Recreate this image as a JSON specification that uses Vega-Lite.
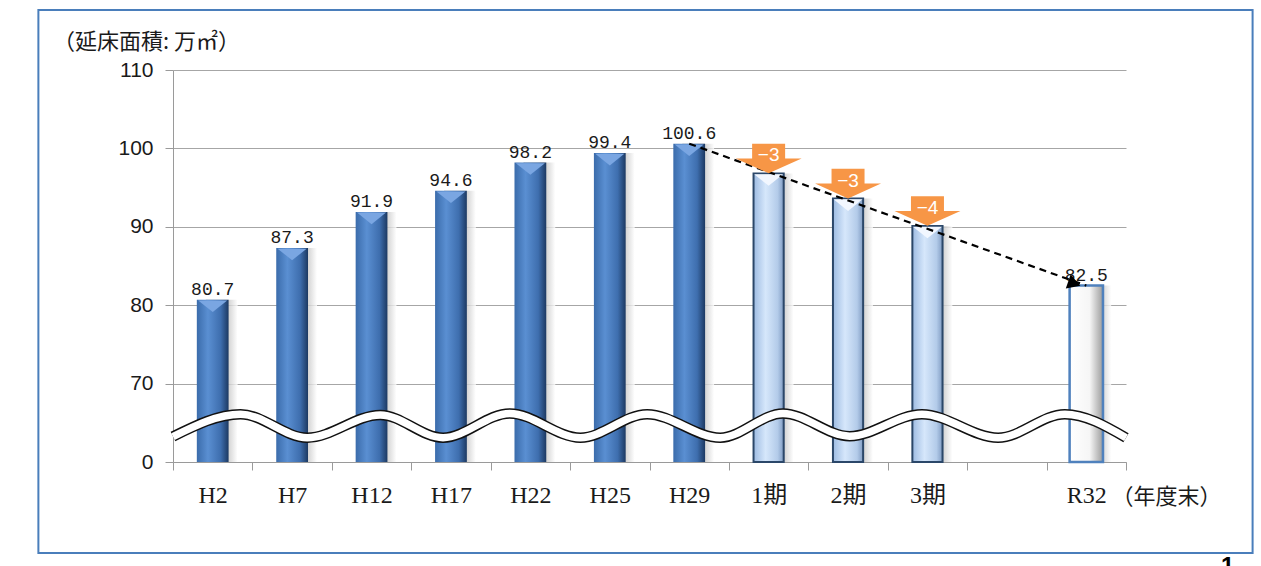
{
  "$schema": "https://vega.github.io/schema/vega-lite/v6.json",
  "width": 953,
  "height": 392,
  "autosize": {"type": "none"},
  "padding": {"left": 173, "top": 70, "right": 135, "bottom": 104},
  "background": "white",
  "config": {"view": {"stroke": null}},
  "datasets": {
    "bars": [
      {"year": "H2", "area": 80.7, "type": "actual"},
      {"year": "H7", "area": 87.3, "type": "actual"},
      {"year": "H12", "area": 91.9, "type": "actual"},
      {"year": "H17", "area": 94.6, "type": "actual"},
      {"year": "H22", "area": 98.2, "type": "actual"},
      {"year": "H25", "area": 99.4, "type": "actual"},
      {"year": "H29", "area": 100.6, "type": "actual"},
      {"year": "1期", "area": 96.8, "type": "plan", "change": -3},
      {"year": "2期", "area": 93.6, "type": "plan", "change": -3},
      {"year": "3期", "area": 90.1, "type": "plan", "change": -4},
      {"year": "R32", "area": 82.5, "type": "target"}
    ],
    "trend": [
      {"year": "H29", "area": 100.6},
      {"year": "R32", "area": 82.5}
    ],
    "wave": [
      {"u": 0, "v": 63.25},
      {"u": 0.85, "v": 66.1},
      {"u": 1.69, "v": 63.1},
      {"u": 2.61, "v": 66.0},
      {"u": 3.4, "v": 63.1},
      {"u": 4.24, "v": 66.2},
      {"u": 5.13, "v": 63.1},
      {"u": 5.97, "v": 66.1},
      {"u": 6.89, "v": 63.1},
      {"u": 7.68, "v": 66.2},
      {"u": 8.52, "v": 63.3},
      {"u": 9.43, "v": 66.1},
      {"u": 10.39, "v": 63.1},
      {"u": 11.23, "v": 66.1},
      {"u": 12, "v": 63.1}
    ]
  },
  "layer": [
    {
      "data": {"name": "bars"},
      "mark": {
        "type": "bar", "width": {"band": 0.4}, "xOffset": 9, "opacity": 0.8,
        "color": {"gradient": "linear", "x1": 0, "x2": 1, "y1": 0, "y2": 0,
          "stops": [{"offset": 0, "color": "#707070"}, {"offset": 0.5, "color": "#a0a0a0"}, {"offset": 1, "color": "#ffffff"}]}
      },
      "encoding": {
        "x": {"field": "year", "type": "nominal", "sort": null,
          "scale": {"type": "band", "domain": ["H2", "H7", "H12", "H17", "H22", "H25", "H29", "1期", "2期", "3期", " ", "R32"], "paddingInner": 0, "paddingOuter": 0},
          "axis": {
            "title": "（年度末）", "titleX": 993, "titleY": 34, "titleAlign": "center", "titleBaseline": "middle",
            "titleFont": "Noto Sans CJK JP", "titleFontSize": 22, "titleFontWeight": "normal", "titleColor": "#1a1a1a",
            "tickBand": "extent", "labelAngle": 0, "labelFont": "Liberation Serif, Noto Sans CJK JP", "labelFontSize": 24,
            "labelColor": "#1a1a1a", "labelPadding": 13, "tickSize": 8, "tickColor": "#9a9a9a", "domainColor": "#9a9a9a", "grid": false
          }
        },
        "y": {"field": "area", "type": "quantitative", "scale": {"domain": [60, 110], "nice": false, "zero": false},
          "axis": {
            "values": [60, 70, 80, 90, 100, 110], "labelExpr": "datum.value === 60 ? '0' : datum.label",
            "grid": true, "gridColor": "#a6a6a6", "gridWidth": 1, "tickSize": 8, "tickColor": "#9a9a9a", "domainColor": "#9a9a9a",
            "labelPadding": 12, "labelFont": "Liberation Sans", "labelFontSize": 21, "labelColor": "#1a1a1a",
            "title": "（延床面積: 万㎡）", "titleAngle": 0, "titleX": -27, "titleY": -29, "titleAlign": "center", "titleBaseline": "middle",
            "titleFont": "Noto Sans CJK JP", "titleFontSize": 22, "titleFontWeight": "normal", "titleColor": "#1a1a1a"
          }
        },
        "y2": {"datum": 60}
      }
    },
    {
      "data": {"name": "bars"},
      "transform": [{"filter": "datum.type === 'actual'"}],
      "mark": {
        "type": "bar", "width": {"band": 0.4},
        "color": {"gradient": "linear", "x1": 0, "x2": 1, "y1": 0, "y2": 0,
          "stops": [{"offset": 0, "color": "#3b6cab"}, {"offset": 0.35, "color": "#5a8fd2"}, {"offset": 0.75, "color": "#3e6eae"}, {"offset": 1, "color": "#1c3962"}]}
      },
      "encoding": {
        "x": {"field": "year", "type": "nominal", "sort": null, "scale": {"type": "band", "domain": ["H2", "H7", "H12", "H17", "H22", "H25", "H29", "1期", "2期", "3期", " ", "R32"], "paddingInner": 0, "paddingOuter": 0}, "axis": null},
        "y": {"field": "area", "type": "quantitative", "scale": {"domain": [60, 110], "nice": false, "zero": false}},
        "y2": {"datum": 60}
      }
    },
    {
      "data": {"name": "bars"},
      "transform": [{"filter": "datum.type === 'plan'"}],
      "mark": {
        "type": "bar", "width": {"band": 0.38}, "stroke": "#2b4769", "strokeWidth": 2,
        "fill": {"gradient": "linear", "x1": 0, "x2": 1, "y1": 0, "y2": 0,
          "stops": [{"offset": 0, "color": "#9dbbe2"}, {"offset": 0.4, "color": "#d6e7fb"}, {"offset": 0.8, "color": "#b3cbe9"}, {"offset": 1, "color": "#7f9bc2"}]}
      },
      "encoding": {
        "x": {"field": "year", "type": "nominal", "sort": null, "scale": {"type": "band", "domain": ["H2", "H7", "H12", "H17", "H22", "H25", "H29", "1期", "2期", "3期", " ", "R32"], "paddingInner": 0, "paddingOuter": 0}, "axis": null},
        "y": {"field": "area", "type": "quantitative", "scale": {"domain": [60, 110], "nice": false, "zero": false}},
        "y2": {"datum": 60}
      }
    },
    {
      "data": {"name": "bars"},
      "transform": [{"filter": "datum.type === 'target'"}],
      "mark": {
        "type": "bar", "width": {"band": 0.42}, "stroke": "#4f81bd", "strokeWidth": 2.5,
        "fill": {"gradient": "linear", "x1": 0, "x2": 1, "y1": 0, "y2": 0,
          "stops": [{"offset": 0, "color": "#ffffff"}, {"offset": 0.6, "color": "#f6f6f6"}, {"offset": 1, "color": "#9c9c9c"}]}
      },
      "encoding": {
        "x": {"field": "year", "type": "nominal", "sort": null, "scale": {"type": "band", "domain": ["H2", "H7", "H12", "H17", "H22", "H25", "H29", "1期", "2期", "3期", " ", "R32"], "paddingInner": 0, "paddingOuter": 0}, "axis": null},
        "y": {"field": "area", "type": "quantitative", "scale": {"domain": [60, 110], "nice": false, "zero": false}},
        "y2": {"datum": 60}
      }
    },
    {
      "data": {"name": "bars"},
      "transform": [{"filter": "datum.type !== 'target'"}],
      "mark": {"type": "point", "shape": "M-1,-0.4L1,-0.4L0,0.4Z", "size": 841, "filled": true, "opacity": 1, "yOffset": 6.5, "strokeWidth": 0},
      "encoding": {
        "x": {"field": "year", "type": "nominal", "sort": null, "scale": {"type": "band", "domain": ["H2", "H7", "H12", "H17", "H22", "H25", "H29", "1期", "2期", "3期", " ", "R32"], "paddingInner": 0, "paddingOuter": 0}, "axis": null},
        "y": {"field": "area", "type": "quantitative", "scale": {"domain": [60, 110], "nice": false, "zero": false}},
        "color": {"field": "type", "type": "nominal", "scale": {"domain": ["actual", "plan"], "range": ["#7aa6e2", "#f2f7ff"]}, "legend": null}
      }
    },
    {
      "data": {"name": "bars"},
      "transform": [{"filter": "datum.type !== 'plan'"}],
      "mark": {"type": "text", "baseline": "alphabetic", "dy": -5, "font": "Liberation Mono", "fontSize": 18, "color": "#1a1a1a"},
      "encoding": {
        "x": {"field": "year", "type": "nominal", "sort": null, "scale": {"type": "band", "domain": ["H2", "H7", "H12", "H17", "H22", "H25", "H29", "1期", "2期", "3期", " ", "R32"], "paddingInner": 0, "paddingOuter": 0}, "axis": null},
        "y": {"field": "area", "type": "quantitative", "scale": {"domain": [60, 110], "nice": false, "zero": false}},
        "text": {"field": "area", "type": "quantitative", "format": ".1f"}
      }
    },
    {
      "data": {"name": "trend"},
      "mark": {"type": "line", "color": "#000000", "strokeWidth": 2.2, "strokeDash": [7, 5]},
      "encoding": {
        "x": {"field": "year", "type": "nominal", "sort": null, "scale": {"type": "band", "domain": ["H2", "H7", "H12", "H17", "H22", "H25", "H29", "1期", "2期", "3期", " ", "R32"], "paddingInner": 0, "paddingOuter": 0}, "axis": null},
        "y": {"field": "area", "type": "quantitative", "scale": {"domain": [60, 110], "nice": false, "zero": false}}
      }
    },
    {
      "data": {"name": "trend"},
      "transform": [{"filter": "datum.year === 'R32'"}],
      "mark": {"type": "point", "shape": "triangle-right", "angle": 19, "size": 220, "filled": true, "color": "#000000", "opacity": 1, "xOffset": -12, "yOffset": -2},
      "encoding": {
        "x": {"field": "year", "type": "nominal", "sort": null, "scale": {"type": "band", "domain": ["H2", "H7", "H12", "H17", "H22", "H25", "H29", "1期", "2期", "3期", " ", "R32"], "paddingInner": 0, "paddingOuter": 0}, "axis": null},
        "y": {"field": "area", "type": "quantitative", "scale": {"domain": [60, 110], "nice": false, "zero": false}}
      }
    },
    {
      "data": {"name": "bars"},
      "transform": [{"filter": "datum.type === 'plan'"}],
      "mark": {"type": "point", "shape": "M-0.5,-0.45L0.5,-0.45L0.5,0L1,0L0,0.45L-1,0L-0.5,0Z", "size": 4356, "filled": true, "color": "#f79646", "opacity": 1, "strokeWidth": 0, "yOffset": -15},
      "encoding": {
        "x": {"field": "year", "type": "nominal", "sort": null, "scale": {"type": "band", "domain": ["H2", "H7", "H12", "H17", "H22", "H25", "H29", "1期", "2期", "3期", " ", "R32"], "paddingInner": 0, "paddingOuter": 0}, "axis": null},
        "y": {"field": "area", "type": "quantitative", "scale": {"domain": [60, 110], "nice": false, "zero": false}}
      }
    },
    {
      "data": {"name": "bars"},
      "transform": [{"filter": "datum.type === 'plan'"}],
      "mark": {"type": "text", "baseline": "middle", "dy": -18, "font": "Liberation Sans", "fontSize": 19, "color": "#ffffff"},
      "encoding": {
        "x": {"field": "year", "type": "nominal", "sort": null, "scale": {"type": "band", "domain": ["H2", "H7", "H12", "H17", "H22", "H25", "H29", "1期", "2期", "3期", " ", "R32"], "paddingInner": 0, "paddingOuter": 0}, "axis": null},
        "y": {"field": "area", "type": "quantitative", "scale": {"domain": [60, 110], "nice": false, "zero": false}},
        "text": {"field": "change", "type": "quantitative", "format": "d"}
      }
    },
    {
      "data": {"name": "wave"},
      "mark": {"type": "line", "interpolate": "monotone", "color": "#111111", "strokeWidth": 10.5, "strokeCap": "butt"},
      "encoding": {
        "x": {"field": "u", "type": "quantitative", "scale": {"domain": [0, 12], "nice": false, "zero": false}, "axis": null},
        "y": {"field": "v", "type": "quantitative", "scale": {"domain": [60, 110], "nice": false, "zero": false}}
      }
    },
    {
      "data": {"name": "wave"},
      "mark": {"type": "line", "interpolate": "monotone", "color": "#ffffff", "strokeWidth": 7.5, "strokeCap": "butt"},
      "encoding": {
        "x": {"field": "u", "type": "quantitative", "scale": {"domain": [0, 12], "nice": false, "zero": false}, "axis": null},
        "y": {"field": "v", "type": "quantitative", "scale": {"domain": [60, 110], "nice": false, "zero": false}}
      }
    },
    {
      "data": {"values": [{}]},
      "mark": {"type": "rect", "fill": "transparent", "stroke": "#4a7ebb", "strokeWidth": 2, "clip": false},
      "encoding": {
        "x": {"datum": -1.695, "type": "quantitative", "scale": {"domain": [0, 12], "nice": false, "zero": false}, "axis": null},
        "x2": {"datum": 13.594},
        "y": {"datum": 117.65, "type": "quantitative", "scale": {"domain": [60, 110], "nice": false, "zero": false}},
        "y2": {"datum": 48.39}
      }
    },
    {
      "data": {"values": [{"page": "1"}]},
      "mark": {"type": "text", "baseline": "alphabetic", "align": "center", "font": "Liberation Sans", "fontWeight": "bold", "fontSize": 24, "color": "#000000", "clip": false},
      "encoding": {
        "x": {"datum": 13.28, "type": "quantitative", "scale": {"domain": [0, 12], "nice": false, "zero": false}, "axis": null},
        "y": {"datum": 45.71, "type": "quantitative", "scale": {"domain": [60, 110], "nice": false, "zero": false}},
        "text": {"field": "page", "type": "nominal"}
      }
    }
  ],
  "resolve": {"scale": {"x": "independent"}}
}
